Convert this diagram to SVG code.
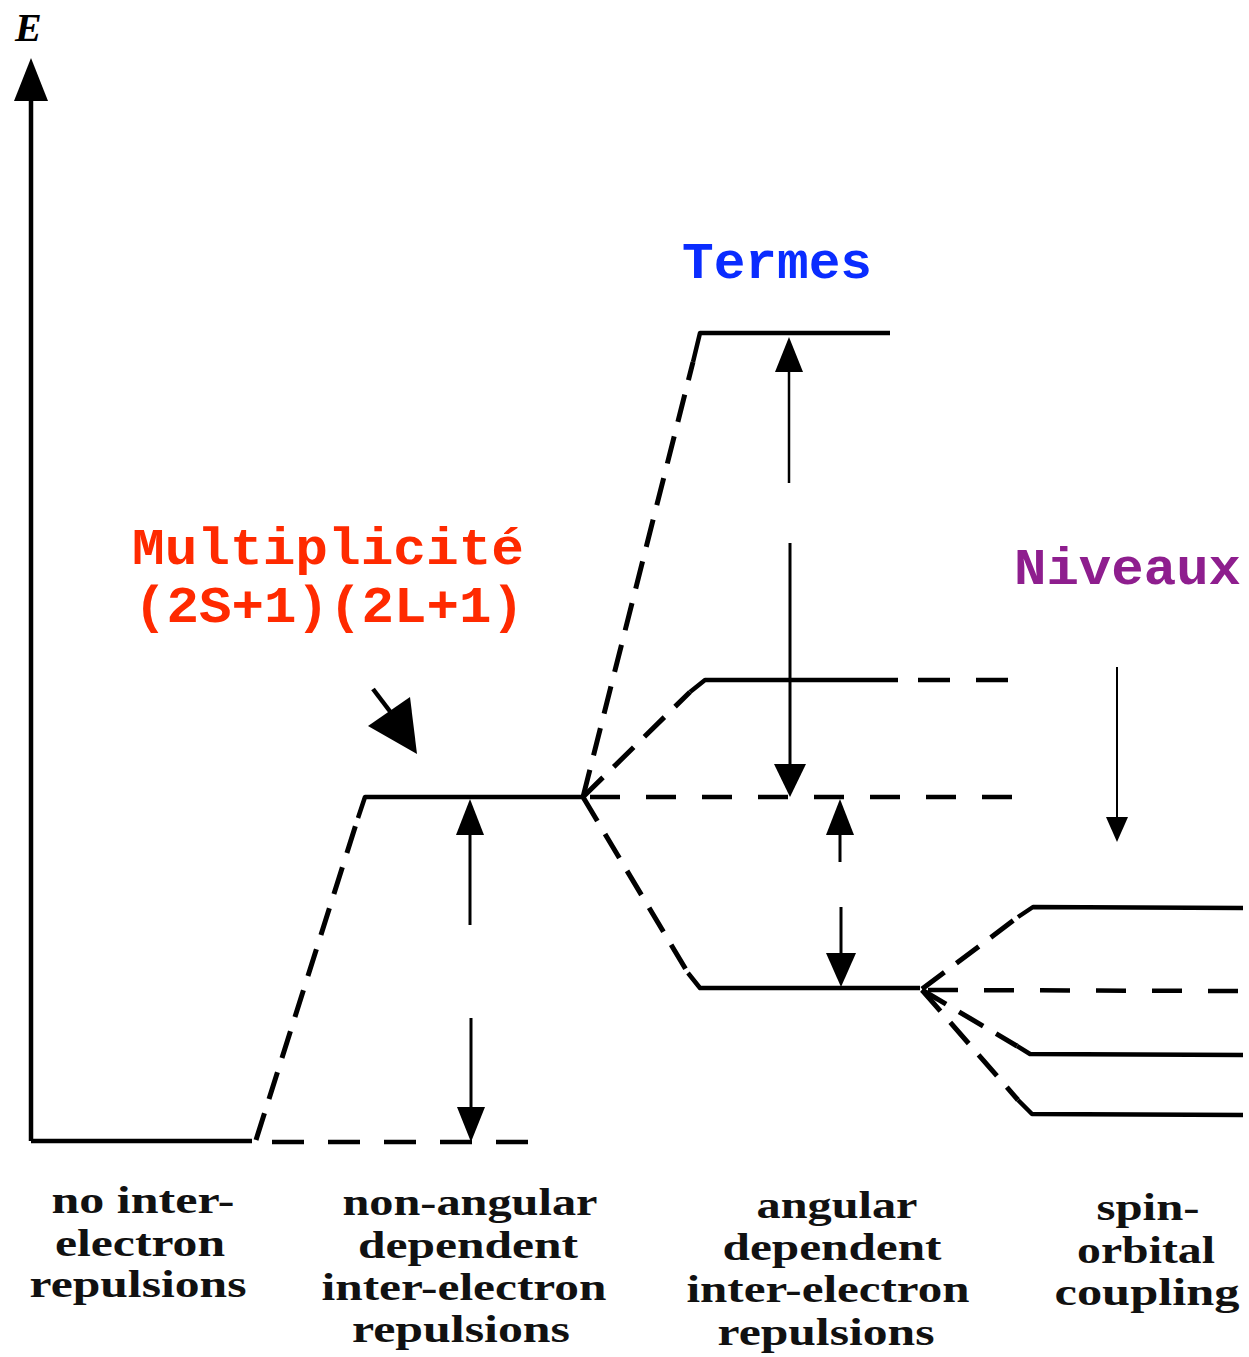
<svg xmlns="http://www.w3.org/2000/svg" width="1249" height="1357" viewBox="0 0 1249 1357">
<style>
.solid{fill:none;stroke:#000;stroke-width:4.5;stroke-linejoin:round;stroke-linecap:butt}
.dash{fill:none;stroke:#000;stroke-width:5;stroke-dasharray:28 15}
.hdash{fill:none;stroke:#000;stroke-width:4.5;stroke-dasharray:32 24}
.thin{fill:none;stroke:#000;stroke-width:2.5}
.head{fill:#000;stroke:none}
.lbl{font-family:"Liberation Serif",serif;font-weight:bold;font-size:38px;fill:#111;text-anchor:middle}
.mono{font-family:"Liberation Mono","Courier New",monospace;font-weight:bold;font-size:52px}
</style>
<rect width="1249" height="1357" fill="#fff"/>
<g id="axis">
<line class="solid" x1="31" y1="1141" x2="31" y2="95"/>
<polygon class="head" points="31,58 14,101 48,101"/>
<text x="15" y="41" font-family="Liberation Serif,serif" font-style="italic" font-weight="bold" font-size="40">E</text>
</g>
<g id="connectors">
<polyline class="solid" points="31,1141 252,1141"/>
<line class="hdash" x1="272" y1="1142" x2="532" y2="1142"/>
<line class="dash" x1="256" y1="1140" x2="358" y2="818"/>
<polyline class="solid" points="358,818 365,797 583,797"/>
<line class="dash" x1="583" y1="797" x2="693" y2="362"/>
<polyline class="solid" points="693,362 700,333 890,333"/>
<line class="dash" x1="583" y1="797" x2="690" y2="692"/>
<polyline class="solid" points="690,692 705,680 898,680"/>
<line class="hdash" x1="918" y1="680" x2="1015" y2="680" style="stroke-dasharray:32 26"/>
<line class="hdash" x1="590" y1="797" x2="1020" y2="797" style="stroke-dasharray:30 26"/>
<line class="dash" x1="583" y1="797" x2="688" y2="973"/>
<polyline class="solid" points="688,973 700,988 920,988"/>
<line class="dash" x1="922" y1="989" x2="1018" y2="917"/>
<polyline class="solid" points="1018,917 1033,907 1243,908"/>
<line class="hdash" x1="928" y1="990" x2="1243" y2="991" style="stroke-dasharray:30 26"/>
<line class="dash" x1="922" y1="990" x2="1017" y2="1046"/>
<polyline class="solid" points="1017,1046 1030,1054 1243,1055"/>
<line class="dash" x1="922" y1="990" x2="1018" y2="1100"/>
<polyline class="solid" points="1018,1100 1032,1114 1243,1115"/>
</g>
<g id="arrow-multiplicity">
<line class="thin" x1="470" y1="833" x2="470" y2="925" style="stroke-width:3"/>
<polygon class="head" points="470,799 456,835 484,835"/>
<line class="thin" x1="471" y1="1018" x2="471" y2="1108" style="stroke-width:3"/>
<polygon class="head" points="471,1142 457,1107 485,1107"/>
</g>
<g id="arrow-termes">
<line class="thin" x1="789" y1="368" x2="789" y2="483"/>
<polygon class="head" points="789,337 775,372 803,372"/>
<line class="thin" x1="790" y1="543" x2="790" y2="767" style="stroke-width:3"/>
<polygon class="head" points="790,797 774,764 806,764"/>
</g>
<g id="arrow-lower">
<line class="thin" x1="840" y1="832" x2="840" y2="862" style="stroke-width:3"/>
<polygon class="head" points="840,799 826,835 854,835"/>
<line class="thin" x1="841" y1="907" x2="841" y2="956" style="stroke-width:3"/>
<polygon class="head" points="841,987 826,953 856,953"/>
</g>
<g id="arrow-niveaux">
<line class="thin" x1="1117" y1="667" x2="1117" y2="820" style="stroke-width:2"/>
<polygon class="head" points="1117,842 1106,817 1128,817"/>
</g>
<g id="arrow-pointer">
<line class="solid" x1="373" y1="689" x2="392" y2="714"/>
<polygon class="head" points="368,726 410,697 417,754"/>
</g>
<g id="titles">
<text class="mono" x="682" y="278" textLength="190" lengthAdjust="spacingAndGlyphs" fill="#0a2cff">Termes</text>
<text class="mono" x="132" y="564" textLength="392" lengthAdjust="spacingAndGlyphs" fill="#ff2a00">Multiplicité</text>
<text class="mono" x="134" y="622" textLength="390" lengthAdjust="spacingAndGlyphs" fill="#ff2a00">(2S+1)(2L+1)</text>
<text class="mono" x="1014" y="584" textLength="227" lengthAdjust="spacingAndGlyphs" fill="#8e1e8e">Niveaux</text>
</g>
<g id="labels">
<text class="lbl" x="143" y="1213" textLength="183" lengthAdjust="spacingAndGlyphs">no inter-</text>
<text class="lbl" x="140" y="1256" textLength="170" lengthAdjust="spacingAndGlyphs">electron</text>
<text class="lbl" x="138" y="1297" textLength="217" lengthAdjust="spacingAndGlyphs">repulsions</text>
<text class="lbl" x="470" y="1215" textLength="255" lengthAdjust="spacingAndGlyphs">non-angular</text>
<text class="lbl" x="468" y="1258" textLength="220" lengthAdjust="spacingAndGlyphs">dependent</text>
<text class="lbl" x="464" y="1300" textLength="285" lengthAdjust="spacingAndGlyphs">inter-electron</text>
<text class="lbl" x="461" y="1342" textLength="218" lengthAdjust="spacingAndGlyphs">repulsions</text>
<text class="lbl" x="837" y="1218" textLength="161" lengthAdjust="spacingAndGlyphs">angular</text>
<text class="lbl" x="832" y="1260" textLength="219" lengthAdjust="spacingAndGlyphs">dependent</text>
<text class="lbl" x="828" y="1302" textLength="283" lengthAdjust="spacingAndGlyphs">inter-electron</text>
<text class="lbl" x="826" y="1345" textLength="217" lengthAdjust="spacingAndGlyphs">repulsions</text>
<text class="lbl" x="1148" y="1220" textLength="103" lengthAdjust="spacingAndGlyphs">spin-</text>
<text class="lbl" x="1146" y="1263" textLength="138" lengthAdjust="spacingAndGlyphs">orbital</text>
<text class="lbl" x="1147" y="1305" textLength="185" lengthAdjust="spacingAndGlyphs">coupling</text>
</g>
</svg>
